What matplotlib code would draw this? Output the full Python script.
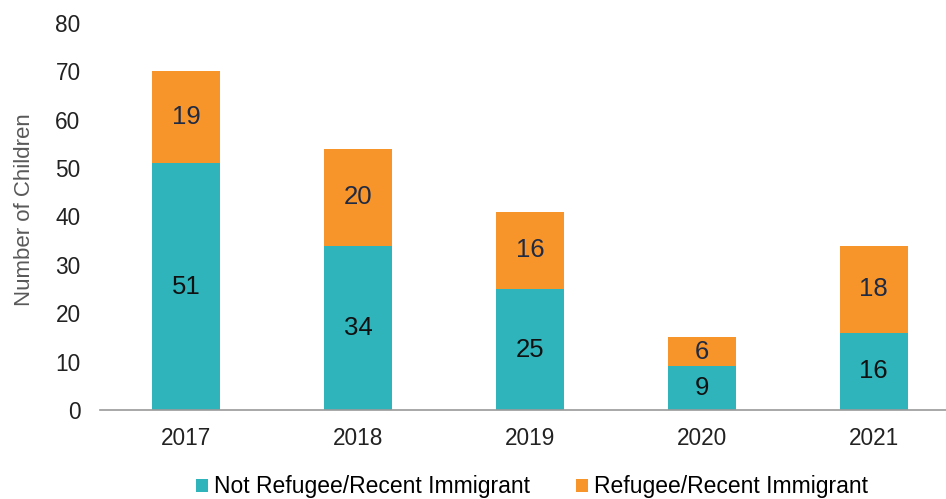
import matplotlib
matplotlib.use("Agg")
import matplotlib.pyplot as plt
import numpy as np

years = ["2017", "2018", "2019", "2020", "2021"]
not_refugee = [51, 34, 25, 9, 16]
refugee = [19, 20, 16, 6, 18]
series_names = ["Not Refugee/Recent Immigrant", "Refugee/Recent Immigrant"]

plt.rcParams['font.family'] = ['Liberation Sans', 'DejaVu Sans']

teal = "#2FB4BC"
orange = "#F7952A"

fig = plt.figure(figsize=(9.46, 4.99), dpi=100)
ax = fig.add_axes([100/946, 89/499, 846/946, 387/499])

x = np.arange(len(years))
w = 0.395
b1 = ax.bar(x, not_refugee, w, color=teal, label=series_names[0])
b2 = ax.bar(x, refugee, w, bottom=not_refugee, color=orange, label=series_names[1])

for xi, v in zip(x, not_refugee):
    ax.text(xi, v / 2, str(v), ha="center", va="center", fontsize=18.5, color="#111111")
for xi, b, v in zip(x, not_refugee, refugee):
    ax.text(xi, b + v / 2, str(v), ha="center", va="center", fontsize=18.5, color="#1f2a44")

ax.set_xlim(-0.5, 4.42)
ax.set_ylim(0, 80)
ax.set_yticks(range(0, 81, 10))
ax.set_xticks(x)
ax.set_xticklabels(years)
ax.tick_params(axis="both", length=0, labelsize=16.3, colors="#222222")
ax.tick_params(axis="y", pad=14)
ax.tick_params(axis="x", pad=12)
for s in ["top", "right", "left"]:
    ax.spines[s].set_visible(False)
ax.spines["bottom"].set_color("#9a9a9a")
ax.spines["bottom"].set_linewidth(1.2)

fig.text(25/946, 1 - 210/499, "Number of Children", rotation=90, ha="center", va="center",
         fontsize=16, color="#595959")

leg = fig.legend(handles=[b1, b2], loc="center", bbox_to_anchor=(532/946, 1 - 487/499),
                 ncol=2, frameon=False, fontsize=16.5, handlelength=0.5, handleheight=0.5,
                 handletextpad=0.25, columnspacing=2.05)

fig.savefig("out.png", dpi=100)
